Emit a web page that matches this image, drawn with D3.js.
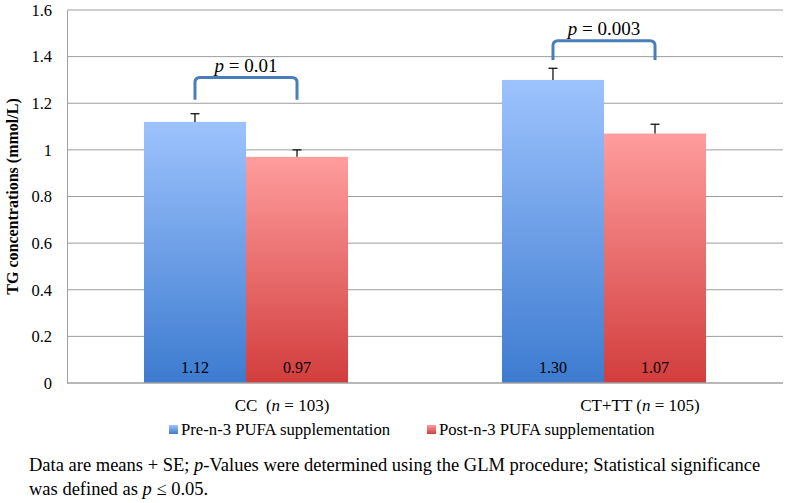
<!DOCTYPE html>
<html>
<head>
<meta charset="utf-8">
<script src="https://cdn.jsdelivr.net/npm/d3@7"></script>
<style>
  body { margin: 0; background: #fff; }
  text { font-family: "Liberation Serif", "Times New Roman", serif; fill: #000; }
</style>
</head>
<body>
<div id="container"></div>
<script>
var categories = ['CC', 'CT+TT'],
    categoryN = [103, 105],
    seriesNames = ['Pre-n-3 PUFA supplementation', 'Post-n-3 PUFA supplementation'],
    preValues = [1.12, 1.30],
    postValues = [0.97, 1.07],
    preSE = [0.035, 0.05],
    postSE = [0.03, 0.04],
    pLabels = ['0.01', '0.003'],
    bracketTop = [1.31, 1.468],
    bracketEnd = [1.215, 1.386],
    yTicks = [0, 0.2, 0.4, 0.6, 0.8, 1, 1.2, 1.4, 1.6];

var svgWidth = 790,
    svgHeight = 503,
    plotLeft = 67,
    plotRight = 783,
    plotTop = 10,
    plotBottom = 383;

var svg = d3.select('#container')
    .append('svg')
    .attr('width', svgWidth)
    .attr('height', svgHeight);

var defs = svg.append('defs');
var grads = [
    { id: 'gBlue', c0: '#9dc3fd', c1: '#3d7bd0' },
    { id: 'gRed', c0: '#ff9d9d', c1: '#d23d3d' }
];
grads.forEach(function(g) {
    var lg = defs.append('linearGradient')
        .attr('id', g.id)
        .attr('x1', 0).attr('y1', 0)
        .attr('x2', 0).attr('y2', 1);
    lg.append('stop').attr('offset', '0%').attr('stop-color', g.c0);
    lg.append('stop').attr('offset', '100%').attr('stop-color', g.c1);
});

var scaleY = d3.scaleLinear()
    .domain([0, 1.6])
    .range([plotBottom, plotTop]);

var scaleX = d3.scaleBand()
    .domain(categories)
    .range([plotLeft, plotRight])
    .paddingInner(0.43)
    .paddingOuter(0.215);

var scaleS = d3.scaleBand()
    .domain([0, 1])
    .range([0, scaleX.bandwidth()]);

// grid lines
svg.append('g')
    .selectAll('line')
    .data(yTicks.filter(function(d) { return d > 0; }))
    .enter()
    .append('line')
    .attr('x1', plotLeft)
    .attr('x2', plotRight)
    .attr('y1', function(d) { return scaleY(d); })
    .attr('y2', function(d) { return scaleY(d); })
    .style('stroke', '#9c9c9c')
    .style('stroke-width', 1);

// y axis
var yAxis = svg.append('g')
    .attr('transform', 'translate(' + plotLeft + ',0)')
    .call(d3.axisLeft(scaleY)
        .tickValues(yTicks)
        .tickSize(0)
        .tickPadding(15)
        .tickFormat(function(d) { return d === Math.round(d) ? d : d.toFixed(1); }));
yAxis.select('.domain').style('stroke', '#a0a0a0');
yAxis.selectAll('text')
    .style('font-size', '16.5px')
    .style('font-family', '"Liberation Serif", serif');

svg.append('text')
    .attr('transform', 'translate(18,' + (plotTop + plotBottom) / 2 + ') rotate(-90)')
    .attr('text-anchor', 'middle')
    .style('font-size', '16px')
    .style('font-weight', 'bold')
    .text('TG concentrations (mmol/L)');

// bars
var rows = [];
categories.forEach(function(c, i) {
    rows.push({ cat: c, s: 0, v: preValues[i], se: preSE[i] });
    rows.push({ cat: c, s: 1, v: postValues[i], se: postSE[i] });
});

var bar = svg.selectAll('g.bar')
    .data(rows)
    .enter()
    .append('g')
    .attr('class', 'bar')
    .attr('transform', function(d) {
        return 'translate(' + (scaleX(d.cat) + scaleS(d.s)) + ',0)';
    });

bar.append('rect')
    .attr('y', function(d) { return scaleY(d.v); })
    .attr('width', scaleS.bandwidth())
    .attr('height', function(d) { return plotBottom - scaleY(d.v); })
    .style('fill', function(d) { return d.s === 0 ? 'url(#gBlue)' : 'url(#gRed)'; });

bar.append('line')
    .attr('x1', scaleS.bandwidth() / 2)
    .attr('x2', scaleS.bandwidth() / 2)
    .attr('y1', function(d) { return scaleY(d.v); })
    .attr('y2', function(d) { return scaleY(d.v + d.se); })
    .style('stroke', '#000')
    .style('stroke-width', 1.2);

bar.append('line')
    .attr('x1', scaleS.bandwidth() / 2 - 4.5)
    .attr('x2', scaleS.bandwidth() / 2 + 4.5)
    .attr('y1', function(d) { return scaleY(d.v + d.se); })
    .attr('y2', function(d) { return scaleY(d.v + d.se); })
    .style('stroke', '#000')
    .style('stroke-width', 1.2);

bar.append('text')
    .text(function(d) { return d.v.toFixed(2); })
    .attr('x', scaleS.bandwidth() / 2)
    .attr('y', plotBottom - 10)
    .attr('text-anchor', 'middle')
    .style('font-size', '16px');

// x axis line
svg.append('line')
    .attr('x1', plotLeft)
    .attr('x2', plotRight)
    .attr('y1', plotBottom)
    .attr('y2', plotBottom)
    .style('stroke', '#a0a0a0')
    .style('stroke-width', 1.5);

// category labels
var catLabel = svg.selectAll('text.cat')
    .data(categories)
    .enter()
    .append('text')
    .attr('class', 'cat')
    .attr('x', function(d) { return scaleX(d) + scaleX.bandwidth() / 2 + 36; })
    .attr('y', plotBottom + 28)
    .attr('text-anchor', 'middle')
    .style('font-size', '17px');
catLabel.append('tspan').text(function(d) { return d + (d === 'CC' ? '\u00a0\u00a0(' : ' ('); });
catLabel.append('tspan').style('font-style', 'italic').text('n');
catLabel.append('tspan').text(function(d, i) { return ' = ' + categoryN[i] + ')'; });

// brackets with p-values
var bracket = svg.selectAll('g.bracket')
    .data(categories)
    .enter()
    .append('g')
    .attr('class', 'bracket');

bracket.append('path')
    .attr('d', function(d, i) {
        var x1 = scaleX(d) + scaleS(0) + scaleS.bandwidth() / 2,
            x2 = scaleX(d) + scaleS(1) + scaleS.bandwidth() / 2,
            yt = scaleY(bracketTop[i]),
            ye = scaleY(bracketEnd[i]),
            r = 5;
        return 'M' + x1 + ',' + ye + 'V' + (yt + r) +
            'Q' + x1 + ',' + yt + ' ' + (x1 + r) + ',' + yt +
            'H' + (x2 - r) +
            'Q' + x2 + ',' + yt + ' ' + x2 + ',' + (yt + r) +
            'V' + ye;
    })
    .style('fill', 'none')
    .style('stroke', '#4a7ebb')
    .style('stroke-width', 3);

var pText = bracket.append('text')
    .attr('x', function(d) { return scaleX(d) + scaleX.bandwidth() / 2; })
    .attr('y', function(d, i) { return scaleY(bracketTop[i]) - 6; })
    .attr('text-anchor', 'middle')
    .style('font-size', '19px');
pText.append('tspan').style('font-style', 'italic').text('p');
pText.append('tspan').text(function(d, i) { return ' = ' + pLabels[i]; });

// legend
var legendX = [169, 427];
var legend = svg.selectAll('g.legend')
    .data(seriesNames)
    .enter()
    .append('g')
    .attr('class', 'legend')
    .attr('transform', function(d, i) { return 'translate(' + legendX[i] + ',425)'; });
legend.append('rect')
    .attr('width', 9)
    .attr('height', 9)
    .style('fill', function(d, i) { return i === 0 ? 'url(#gBlue)' : 'url(#gRed)'; });
legend.append('text')
    .attr('x', 12)
    .attr('y', 10)
    .style('font-size', '16.7px')
    .text(function(d) { return d; });

// footnote
var note1 = svg.append('text')
    .attr('x', 29)
    .attr('y', 471)
    .style('font-size', '18.5px');
note1.append('tspan').text('Data are means + SE; ');
note1.append('tspan').style('font-style', 'italic').text('p');
note1.append('tspan').text('-Values were determined using the GLM procedure; Statistical significance');

var note2 = svg.append('text')
    .attr('x', 29)
    .attr('y', 495)
    .style('font-size', '18.5px');
note2.append('tspan').text('was defined as ');
note2.append('tspan').style('font-style', 'italic').text('p');
note2.append('tspan').text(' \u2264 0.05.');
</script>
</body>
</html>
